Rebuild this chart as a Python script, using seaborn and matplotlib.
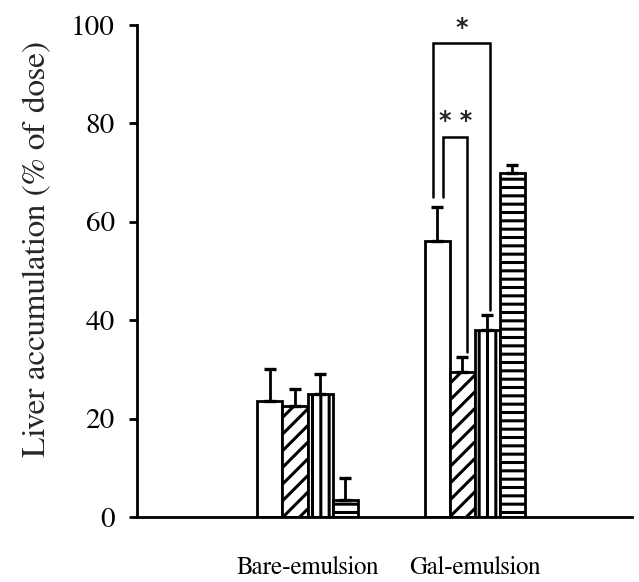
import numpy as np
import pandas as pd
import matplotlib
matplotlib.use("Agg")
import matplotlib.pyplot as plt
import seaborn as sns

# data
groups = ["Bare-emulsion", "Gal-emulsion"]
conditions = ["A", "B", "C", "D"]
bare_vals = [23.5, 22.5, 25.0, 3.5]
bare_errs = [6.5, 3.5, 4.0, 4.5]
gal_vals = [56.0, 29.5, 38.0, 70.0]
gal_errs = [7.0, 3.0, 3.0, 1.5]

hatches = ["", "//", "||", "--"]

df = pd.DataFrame({
    "group": np.repeat(groups, len(conditions)),
    "cond": conditions * len(groups),
    "value": bare_vals + gal_vals,
})

sns.set_style("ticks")
plt.rcParams["font.family"] = ["FreeSerif", "DejaVu Serif"]
plt.rcParams["hatch.linewidth"] = 2.2

fig = plt.figure(figsize=(6.39, 5.82), dpi=100)
ax = fig.add_axes([0.2144, 0.1117, 0.7746, 0.8454])

sns.barplot(data=df, x="group", y="value", hue="cond", order=groups,
            hue_order=conditions, palette=["white"] * 4, edgecolor="black",
            linewidth=2, width=0.6, gap=0.0, legend=False, ax=ax)

# hatches + error bars (only upward)
errs = {g: e for g, e in zip(groups, [bare_errs, gal_errs])}
centers = {}
bar_containers = list(ax.containers)
for i, cont in enumerate(bar_containers):
    for j, patch in enumerate(cont.patches):
        patch.set_hatch(hatches[i])
        cx = patch.get_x() + patch.get_width() / 2
        h = patch.get_height()
        centers[(groups[j], i)] = (cx, patch.get_width())
        e = errs[groups[j]][i]
        ax.errorbar([cx], [h], yerr=[[0], [e]], fmt="none", ecolor="black",
                    elinewidth=2, capsize=4.5, capthick=2.4, zorder=1)

# significance brackets on the Gal group
def bracket(i0, i1, off0, off1, top, y0, y1, label, ty):
    x0 = centers[("Gal-emulsion", i0)][0] + off0 * centers[("Gal-emulsion", i0)][1]
    x1 = centers[("Gal-emulsion", i1)][0] + off1 * centers[("Gal-emulsion", i1)][1]
    ax.plot([x0, x0, x1, x1], [y0, top, top, y1], color="black", lw=1.8,
            solid_joinstyle="miter", clip_on=False)
    ax.text((x0 + x1) / 2, ty, label, ha="center", va="bottom", fontsize=17,
            fontweight="bold", family="DejaVu Sans")

bracket(0, 2, -0.15, 0.1, 96.3, 65, 42, "*", 97.0)
bracket(0, 1, 0.25, 0.2, 77.2, 65, 33.5, "* *", 78.0)

ax.set_xlim(-1.02, 1.94)
ax.set_ylim(0, 100)
ax.set_yticks([0, 20, 40, 60, 80, 100])
ax.tick_params(axis="y", direction="out", length=6, width=2, labelsize=21,
               pad=10, color="black", labelcolor="black")
ax.tick_params(axis="x", length=0, labelsize=18, pad=28, labelcolor="black")
ax.set_xlabel("")
ax.set_ylabel("Liver accumulation (% of dose)", fontsize=24)
ax.yaxis.set_label_coords(-0.172, 0.545)
for s in ["top", "right"]:
    ax.spines[s].set_visible(False)
for s in ["left", "bottom"]:
    ax.spines[s].set_linewidth(2)
    ax.spines[s].set_color("black")

fig.savefig("out.png", dpi=100)
